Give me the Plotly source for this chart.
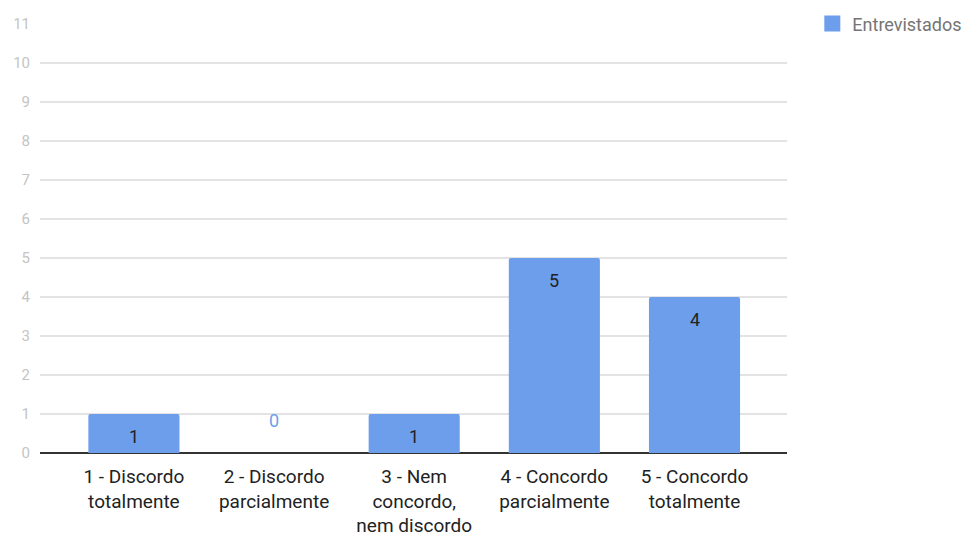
import plotly.graph_objects as go

categories = ["1 - Discordo<br>totalmente", "2 - Discordo<br>parcialmente",
              "3 - Nem<br>concordo,<br>nem discordo", "4 - Concordo<br>parcialmente",
              "5 - Concordo<br>totalmente"]
values = [1, 0, 1, 5, 4]
series_name = "Entrevistados"
y_ticks = list(range(0, 12))

BLUE = "#6d9eeb"
fig = go.Figure()
fig.add_trace(go.Bar(
    x=list(range(len(categories))), y=values, name=series_name,
    marker=dict(color=BLUE, line=dict(width=0)), width=0.65,
    hoverinfo="skip", showlegend=False,
))
# legend entry with a larger square swatch
fig.add_trace(go.Scatter(
    x=[None], y=[None], mode="markers", name=series_name,
    marker=dict(symbol="square", size=19, color=BLUE), hoverinfo="skip",
))

for i, v in enumerate(values):
    if v > 0:
        fig.add_annotation(x=i, y=v, text=str(v), showarrow=False, yshift=-22,
                           font=dict(family="Roboto", size=18, color="#222222"))
    else:
        fig.add_annotation(x=i, y=v, text=str(v), showarrow=False, yshift=33,
                           font=dict(family="Roboto", size=18, color=BLUE))

fig.update_layout(
    width=974, height=540,
    margin=dict(l=40, r=187, t=24, b=87),
    paper_bgcolor="white", plot_bgcolor="white",
    font=dict(family="Roboto"),
    barcornerradius=2,
    showlegend=True,
    legend=dict(xref="container", yref="container", x=0.834, y=0.99,
                xanchor="left", yanchor="top", itemwidth=30,
                font=dict(family="Roboto", size=18, color="#757575"),
                bgcolor="rgba(0,0,0,0)"),
    xaxis=dict(
        range=[-0.67, 4.66], tickmode="array",
        tickvals=list(range(len(categories))), ticktext=categories,
        tickfont=dict(family="Roboto", size=19, color="#222222"),
        showgrid=False, zeroline=False, showline=False, ticks="",
        ticklabelstandoff=10, fixedrange=True, automargin=False,
    ),
    yaxis=dict(
        range=[0, 11], tickmode="array", tickvals=y_ticks,
        tickfont=dict(family="Roboto", size=15, color="#c4c4c4"),
        showgrid=True, gridcolor="#e3e3e3", gridwidth=1.5,
        zeroline=True, zerolinecolor="#333333", zerolinewidth=1.5,
        ticks="", ticklabelstandoff=9, fixedrange=True, automargin=False,
    ),
)

fig.write_html("out.html")
